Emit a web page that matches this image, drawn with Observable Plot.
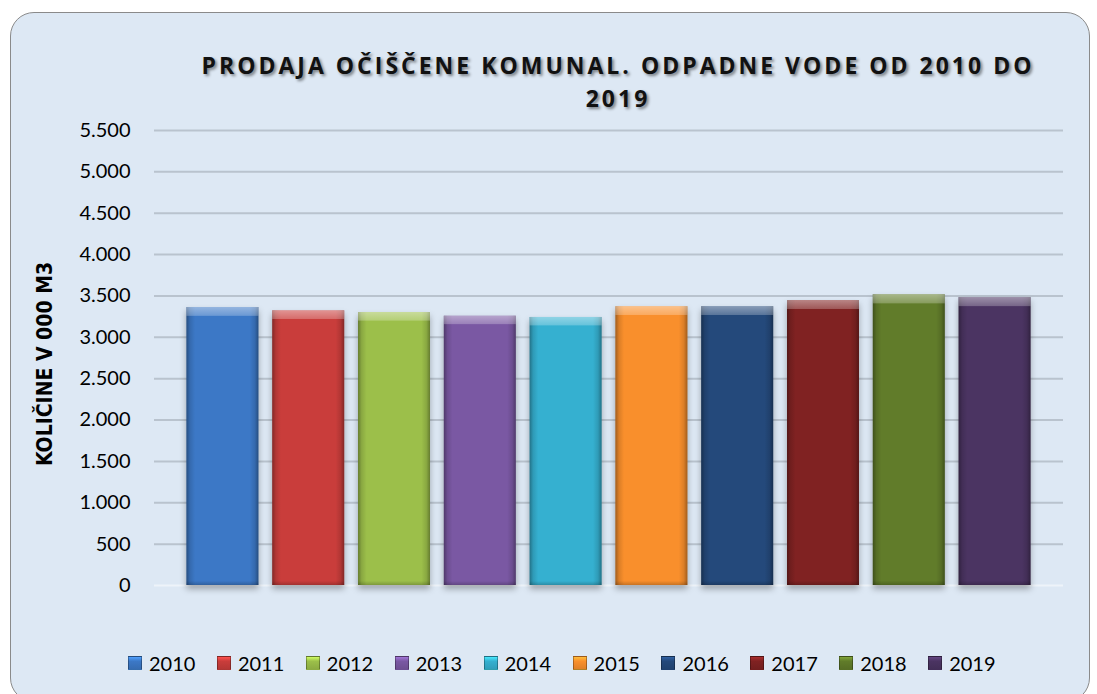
<!DOCTYPE html>
<html><head><meta charset="utf-8">
<script src="https://cdn.jsdelivr.net/npm/d3@7"></script>
<script src="https://cdn.jsdelivr.net/npm/@observablehq/plot@0.6"></script>
<style>
body{margin:0;background:#fff;width:1097px;height:694px;overflow:hidden;position:relative;font-family:Lato,sans-serif}
#frame{position:absolute;left:10px;top:12px;width:1080px;height:690px;border:1.5px solid #8a8a8a;border-radius:24px;background:#dde8f4;box-sizing:border-box}
#title{position:absolute;left:168px;width:900px;top:49px;text-align:center;font-family:"Open Sans",sans-serif;font-weight:700;font-size:23px;letter-spacing:3px;line-height:33px;color:#111;text-shadow:2px 2px 3px rgba(0,0,0,0.45)}
#chart{position:absolute;left:0;top:110px}
#legend{position:absolute;left:128px;top:651px;display:flex;align-items:center;font-family:Lato,sans-serif;font-size:20px;line-height:24px;color:#000}
#legend .item{display:flex;align-items:center;margin-right:21.5px}
#legend .sw{width:14px;height:14px;margin-right:7px;box-sizing:border-box;border:1px solid rgba(0,0,0,0.3)}
</style></head>
<body>
<div id="frame"></div>
<div id="title">PRODAJA OČIŠČENE KOMUNAL. ODPADNE VODE OD 2010 DO<br>2019</div>
<div id="chart"></div>
<div id="legend"></div>
<script>
const years = ["2010","2011","2012","2013","2014","2015","2016","2017","2018","2019"];
const values = [3360, 3320, 3300, 3255, 3240, 3370, 3370, 3445, 3515, 3480];
const colors = ["#3c78c6","#c93d3b","#9cbf4a","#7a58a3","#35b0d0","#f98f2c","#24497b","#802222","#617c2a","#4b3462"];
const yTicks = [0,500,1000,1500,2000,2500,3000,3500,4000,4500,5000,5500];
const yLabel = "KOLIČINE V 000 M3";

const data = years.map((y,i)=>({year:y, value:values[i]}));
const fmt = d => d3.format(",")(d).replace(/,/g, ".");

const chart = Plot.plot({
  width: 1097, height: 500,
  marginLeft: 154, marginRight: 34, marginTop: 20, marginBottom: 25,
  style: {background: "transparent", fontFamily: "Lato, sans-serif", fontSize: "20px", color: "#000", overflow: "visible"},
  x: {domain: years, paddingInner: 0.161, paddingOuter: 0.378, round: false, axis: null},
  y: {domain: [0, 5500]},
  color: {domain: years, range: colors},
  marks: [
    Plot.ruleY(yTicks.filter(d => d > 0), {stroke: "#b9c3ce", strokeWidth: 2}),
    Plot.ruleY([0], {stroke: "#eef3f9", strokeWidth: 2}),
    Plot.axisY({ticks: yTicks, tickSize: 0, tickPadding: 24, fontSize: 20, tickFormat: fmt, label: null, fill: "#000"}),
    Plot.barY(data, {x: "year", y: "value", fill: "year"}),
    Plot.barY(data, {x: "year", y: "value", fill: "url(#hshade)"}),
    Plot.barY(data, {x: "year", y: "value", fill: "url(#vshade)"}),
    Plot.text([yLabel], {text: d => d, frameAnchor: "left", textAnchor: "middle", dx: -109, dy: 6, rotate: -90, fontWeight: "bold", fontSize: 21, fontFamily: "DejaVu Sans Condensed, DejaVu Sans, sans-serif", fill: "#000"})
  ]
});

d3.select(chart).insert("defs", ":first-child").html(`
  <linearGradient id="hshade" x1="0" x2="1" y1="0" y2="0">
    <stop offset="0" stop-color="#000" stop-opacity="0.35"/>
    <stop offset="0.05" stop-color="#000" stop-opacity="0.12"/>
    <stop offset="0.12" stop-color="#000" stop-opacity="0"/>
    <stop offset="0.88" stop-color="#000" stop-opacity="0"/>
    <stop offset="0.95" stop-color="#000" stop-opacity="0.12"/>
    <stop offset="1" stop-color="#000" stop-opacity="0.35"/>
  </linearGradient>
  <linearGradient id="vshade" x1="0" x2="0" y1="0" y2="1">
    <stop offset="0" stop-color="#fff" stop-opacity="0.45"/>
    <stop offset="0.03" stop-color="#fff" stop-opacity="0.25"/>
    <stop offset="0.033" stop-color="#fff" stop-opacity="0"/>
    <stop offset="0.985" stop-color="#000" stop-opacity="0"/>
    <stop offset="1" stop-color="#000" stop-opacity="0.2"/>
  </linearGradient>`);
const barGroups = d3.select(chart).selectAll('g[aria-label="bar"]');
d3.select(barGroups.nodes()[0]).style("filter", "drop-shadow(0px 4px 3px rgba(0,0,0,0.3))");

document.getElementById("chart").appendChild(chart);

const legend = d3.select("#legend");
years.forEach((y, i) => {
  const it = legend.append("div").attr("class", "item");
  it.append("div").attr("class", "sw")
    .style("background", `linear-gradient(180deg, ${d3.color(colors[i]).brighter(0.8)} 0%, ${colors[i]} 35%, ${d3.color(colors[i]).darker(0.3)} 100%)`);
  it.append("span").text(y);
});
</script>
</body></html>
